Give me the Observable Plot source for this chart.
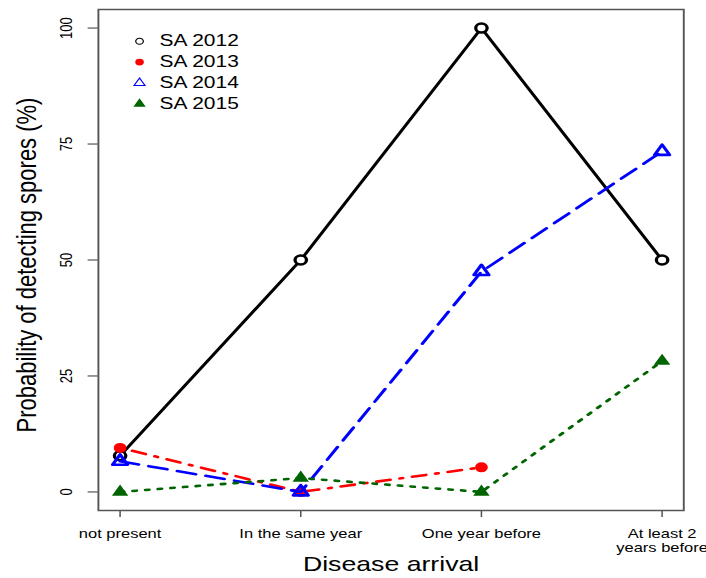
<!DOCTYPE html>
<html><head><meta charset="utf-8">
<script src="https://cdn.jsdelivr.net/npm/d3@7"></script>
<script src="https://cdn.jsdelivr.net/npm/@observablehq/plot@0.6"></script>
<style>
html,body{margin:0;padding:0;background:#fff}
#chart svg{display:block}
</style>
</head><body><div id="chart"></div>
<script>
const categories = ["not present", "In the same year", "One year before", "At least 2 years before"];
const tickLabels = ["not present", "In the same year", "One year before", "At least 2\nyears before"];
const yTicks = [0, 25, 50, 75, 100];
const seriesNames = ["SA 2012", "SA 2013", "SA 2014", "SA 2015"];
const sa2012 = [7.8, 50, 100, 50];
const sa2013 = [9.5, 0, 5.3, null];
const sa2014 = [6.6, 0, 47.5, 73.4];
const sa2015 = [0, 3, 0, 28.2];
const xTitle = "Disease arrival";
const yTitle = "Probability of detecting spores (%)";

// virtual drawing width; the SVG is shown stretched horizontally like the reference
const VW = 556, W = 706, H = 578;
const font = "'Liberation Sans', Arial, Helvetica, sans-serif";
const green = "#006400";

const rows = vals => categories.map((c, i) => ({cat: c, v: vals[i]}));
const lw = 2.6;

const legendStyles = [
  {symbol: "circle", r: 3, fill: "none", stroke: "black", strokeWidth: 1},
  {symbol: "circle", r: 3.4, fill: "red", stroke: "none"},
  {symbol: "triangle", r: 3.2, fill: "none", stroke: "blue", strokeWidth: 1},
  {symbol: "triangle", r: 3.6, fill: green, stroke: "none"}
];

const legendMarks = seriesNames.flatMap((name, i) => [
  Plot.dot([name], {frameAnchor: "top-left", dx: 32.4, dy: 31.7 + i * 20.9, ...legendStyles[i]}),
  Plot.text([name], {frameAnchor: "top-left", dx: 48.2, dy: 31.7 + i * 20.9, text: d => d,
    textAnchor: "start", lineAnchor: "middle", fontSize: 16.5, fill: "black"})
]);

const plot = Plot.plot({
  width: VW, height: H,
  marginLeft: 77, marginRight: 18, marginTop: 9, marginBottom: 68,
  style: {fontFamily: font, background: "white", color: "black"},
  x: {type: "point", domain: categories, padding: 0.12, round: false},
  y: {domain: [-4, 104]},
  marks: [
    Plot.frame({stroke: "#555", strokeWidth: 1.5}),
    Plot.axisY({ticks: yTicks, tickSize: 8, tickFormat: () => "", label: null, stroke: "#555", strokeWidth: 1.2}),
    Plot.axisX({tickSize: 7, tickFormat: () => "", label: null, stroke: "#555", strokeWidth: 1.2}),
    Plot.text(yTicks, {y: d => d, text: d => String(d), frameAnchor: "left", textAnchor: "middle", dx: -25, rotate: -90, fontSize: 13, fill: "black"}),
    Plot.text(categories, {x: d => d, text: (d, i) => tickLabels[i], frameAnchor: "bottom", dy: 18, lineAnchor: "top", lineHeight: 1.05, fontSize: 13, fill: "black"}),
    Plot.text([xTitle], {text: d => d, frameAnchor: "bottom", dy: 60, fontSize: 21, fill: "black"}),
    Plot.text([yTitle], {text: d => d, frameAnchor: "left", textAnchor: "middle", dx: -56, dy: 5, rotate: -90, fontSize: 22, fill: "black"}),

    Plot.line(rows(sa2012), {x: "cat", y: "v", stroke: "black", strokeWidth: lw}),
    Plot.dot(rows(sa2012), {x: "cat", y: "v", r: 4.5, fill: "white", stroke: "none"}),
    Plot.dot(rows(sa2012), {x: "cat", y: "v", r: 4.5, fill: "none", stroke: "black", strokeWidth: lw}),

    Plot.line(rows(sa2013), {x: "cat", y: "v", stroke: "red", strokeWidth: lw, strokeDasharray: "2.5,7.5,11,7.5", strokeLinecap: "round"}),
    Plot.dot(rows(sa2013), {x: "cat", y: "v", r: 5, fill: "red", stroke: "none"}),

    Plot.line(rows(sa2014), {x: "cat", y: "v", stroke: "blue", strokeWidth: lw, strokeDasharray: "15,8", strokeLinecap: "round"}),
    Plot.dot(rows(sa2014), {x: "cat", y: "v", symbol: "triangle", r: 4.4, fill: "none", stroke: "blue", strokeWidth: lw, strokeLinejoin: "round"}),

    Plot.line(rows(sa2015), {x: "cat", y: "v", stroke: green, strokeWidth: lw, strokeDasharray: "3,7", strokeLinecap: "round"}),
    Plot.dot(rows(sa2015), {x: "cat", y: "v", symbol: "triangle", r: 4.8, fill: green, stroke: "none"}),

    ...legendMarks
  ]
});

plot.setAttribute("viewBox", `0 0 ${VW} ${H}`);
plot.setAttribute("preserveAspectRatio", "none");
plot.setAttribute("width", W);
plot.setAttribute("height", H);
plot.style.width = W + "px";
plot.style.height = H + "px";
plot.style.maxWidth = "none";
document.getElementById("chart").appendChild(plot);
</script>
</body></html>
